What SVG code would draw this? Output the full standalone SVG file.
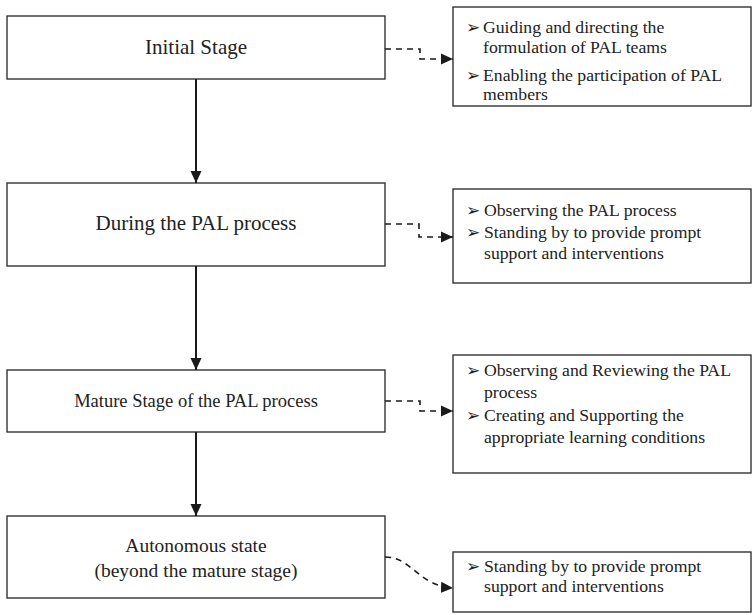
<svg xmlns="http://www.w3.org/2000/svg" width="754" height="615" viewBox="0 0 754 615">
  <defs>
    <style>
      .box { fill: #fff; stroke: #333; stroke-width: 1.4; }
      .stage { font-family: "Liberation Serif", "Times New Roman", serif; fill: #222; text-anchor: middle; }
      .note { font-family: "Liberation Serif", "Times New Roman", serif; font-size: 17.7px; fill: #222; }
      .bul { font-family: "DejaVu Sans", sans-serif; font-size: 17px; fill: #222; }
      .flow { fill: none; stroke: #1a1a1a; stroke-width: 2; }
      .dash { fill: none; stroke: #1a1a1a; stroke-width: 1.6; stroke-dasharray: 6 5; }
    </style>
    <marker id="head" markerUnits="userSpaceOnUse" markerWidth="13" markerHeight="12" refX="12" refY="6" orient="auto">
      <path d="M0,0.5 L12,6 L0,11.5 Z" fill="#1a1a1a" stroke="none"/>
    </marker>
  </defs>

  <!-- stage boxes -->
  <g id="initial">
    <rect class="box" x="7" y="16" width="378" height="63"/>
    <text class="stage" x="196" y="54" font-size="21">Initial Stage</text>
  </g>
  <g id="during">
    <rect class="box" x="7" y="183" width="378" height="83"/>
    <text class="stage" x="196" y="230" font-size="21">During the PAL process</text>
  </g>
  <g id="mature">
    <rect class="box" x="7" y="370" width="378" height="62"/>
    <text class="stage" x="196" y="407" font-size="18.5">Mature Stage of the PAL process</text>
  </g>
  <g id="autonomous">
    <rect class="box" x="7" y="516" width="378" height="82"/>
    <text class="stage" x="196" y="552" font-size="19.5">Autonomous state</text>
    <text class="stage" x="196" y="577" font-size="19.5">(beyond the mature stage)</text>
  </g>

  <!-- support notes -->
  <g id="note-initial">
    <rect class="box" x="453" y="7" width="298" height="99"/>
    <text class="bul" x="466" y="33">➢</text>
    <text class="note" x="483" y="33">Guiding and directing the</text>
    <text class="note" x="483" y="53">formulation of PAL teams</text>
    <text class="bul" x="466" y="81">➢</text>
    <text class="note" x="483" y="81">Enabling the participation of PAL</text>
    <text class="note" x="483" y="100">members</text>
  </g>
  <g id="note-during">
    <rect class="box" x="453" y="189" width="298" height="94"/>
    <text class="bul" x="466" y="216">➢</text>
    <text class="note" x="484" y="216">Observing the PAL process</text>
    <text class="bul" x="466" y="238">➢</text>
    <text class="note" x="484" y="238">Standing by to provide prompt</text>
    <text class="note" x="484" y="259">support and interventions</text>
  </g>
  <g id="note-mature">
    <rect class="box" x="453" y="355" width="298" height="118"/>
    <text class="bul" x="466" y="376">➢</text>
    <text class="note" x="484" y="376">Observing and Reviewing the PAL</text>
    <text class="note" x="484" y="398">process</text>
    <text class="bul" x="466" y="421">➢</text>
    <text class="note" x="484" y="421">Creating and Supporting the</text>
    <text class="note" x="484" y="443">appropriate learning conditions</text>
  </g>
  <g id="note-autonomous">
    <rect class="box" x="453" y="552" width="298" height="60"/>
    <text class="bul" x="466" y="572">➢</text>
    <text class="note" x="484" y="572">Standing by to provide prompt</text>
    <text class="note" x="484" y="592">support and interventions</text>
  </g>

  <!-- connectors -->
  <g id="connectors">
    <path class="flow" d="M196,79 V183" marker-end="url(#head)"/>
    <path class="flow" d="M196,266 V370" marker-end="url(#head)"/>
    <path class="flow" d="M196,432 V516" marker-end="url(#head)"/>
    <path class="dash" d="M385,49 H420 V59 H453" marker-end="url(#head)"/>
    <path class="dash" d="M385,224 H419 V237 H453" marker-end="url(#head)"/>
    <path class="dash" d="M385,401 H420 V411 H453" marker-end="url(#head)"/>
    <path class="dash" d="M385,557 C412,557 418,586 453,588" marker-end="url(#head)"/>
  </g>
</svg>
